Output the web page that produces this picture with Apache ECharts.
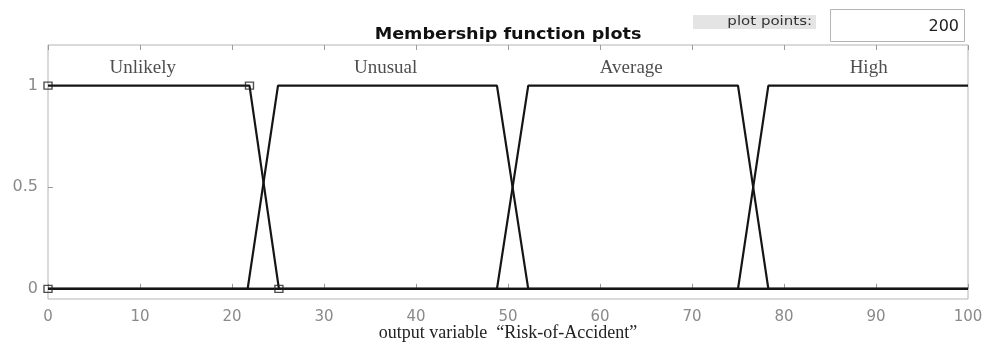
<!DOCTYPE html>
<html>
<head>
<meta charset="utf-8">
<script src="https://cdn.jsdelivr.net/npm/echarts@6/dist/echarts.min.js"></script>
<style>
  html, body { margin: 0; padding: 0; background: #fff; }
  #chart { width: 984px; height: 351px; }
</style>
</head>
<body>
<div id="chart"></div>
<script>
// Trapezoidal membership functions [a, b, c, d] of the output variable
const mfNames = ['Unlikely', 'Unusual', 'Average', 'High'];
const unlikelyParams = [0, 0, 21.9, 25.1];
const unusualParams = [21.7, 25.0, 48.8, 52.2];
const averageParams = [48.8, 52.2, 75.0, 78.3];
const highParams = [75.0, 78.3, 100, 100];
// Where each function's name sits along the x axis
const nameX = [10.3, 36.7, 63.4, 89.2];
const nameY = 1.085;
// Axis ticks
const xTicks = [0, 10, 20, 30, 40, 50, 60, 70, 80, 90, 100];
const yTicks = [0, 0.5, 1];
const xRange = [0, 100];
const yRange = [-0.05, 1.2];
const plotPoints = '200';

function trapValue(p, x) {
  const [a, b, c, d] = p;
  let up = b === a ? (x >= a ? 1 : 0) : (x - a) / (b - a);
  let down = d === c ? (x <= d ? 1 : 0) : (d - x) / (d - c);
  return Math.max(0, Math.min(up, 1, down));
}

function trapLine(p) {
  const pts = [[xRange[0], trapValue(p, xRange[0])]];
  const vy = [0, 1, 1, 0];
  p.forEach((x, i) => {
    if (x > xRange[0] && x < xRange[1]) pts.push([x, vy[i]]);
  });
  pts.push([xRange[1], trapValue(p, xRange[1])]);
  return pts;
}

const allParams = [unlikelyParams, unusualParams, averageParams, highParams];

const chart = echarts.init(document.getElementById('chart'));

const lineSeries = allParams.map((p, i) => ({
  name: mfNames[i],
  type: 'line',
  data: trapLine(p),
  symbol: 'none',
  lineStyle: { color: '#151515', width: 2.2 },
  z: 3,
  animation: false
}));

chart.setOption({
  backgroundColor: '#ffffff',
  animation: false,
  grid: {
    left: 48, right: 16, top: 45, bottom: 52,
    outerBoundsMode: 'none',
    containLabel: false,
    show: true, borderColor: '#b4b4b4', borderWidth: 1
  },
  xAxis: [{
    type: 'value',
    min: xRange[0], max: xRange[1], interval: 10,
    name: 'output variable  \u201cRisk-of-Accident\u201d',
    nameLocation: 'middle', nameGap: 25, nameMoveOverlap: false,
    nameTextStyle: { fontFamily: 'Liberation Serif', fontSize: 18, color: '#222' },
    axisLine: { show: false },
    axisTick: { show: true, inside: true, length: 5, lineStyle: { color: '#9a9a9a' } },
    axisLabel: { margin: 11, fontFamily: 'DejaVu Sans', fontSize: 15, color: '#8a8a8a',
      customValues: xTicks },
    splitLine: { show: false }
  }, {
    type: 'value', position: 'top',
    min: xRange[0], max: xRange[1], interval: 10,
    axisLine: { show: false },
    axisTick: { show: true, inside: true, length: 5, lineStyle: { color: '#9a9a9a' } },
    axisLabel: { show: false },
    splitLine: { show: false }
  }],
  yAxis: {
    type: 'value',
    min: yRange[0], max: yRange[1],
    axisLine: { show: false },
    axisTick: { show: true, inside: true, length: 5, customValues: yTicks,
      lineStyle: { color: '#9a9a9a' } },
    axisLabel: { margin: 10, fontFamily: 'DejaVu Sans', fontSize: 16, color: '#8a8a8a',
      customValues: yTicks, formatter: v => String(v) },
    splitLine: { show: false }
  },
  series: lineSeries.concat([
    {
      // vertex handles of the selected function
      type: 'scatter',
      data: [[unlikelyParams[0], 0], [unlikelyParams[1], 1], [unlikelyParams[2], 1], [unlikelyParams[3], 0]],
      symbol: 'rect', symbolSize: [8, 7],
      itemStyle: { color: 'rgba(0,0,0,0)', borderColor: '#222', borderWidth: 1.3 },
      z: 4
    },
    {
      type: 'scatter',
      data: nameX.map((x, i) => ({ value: [x, nameY], name: mfNames[i] })),
      symbolSize: 0,
      label: {
        show: true, position: 'inside', formatter: '{b}',
        fontFamily: 'Liberation Serif', fontSize: 19, color: '#222'
      },
      silent: true,
      z: 5
    }
  ]),
  graphic: [
    {
      type: 'text', x: 508, y: 35, scaleX: 1.1,
      style: { text: 'Membership function plots', font: 'bold 16px "DejaVu Sans"', fill: '#111',
        align: 'center', verticalAlign: 'middle' }
    },
    {
      type: 'rect', shape: { x: 693, y: 15, width: 123, height: 14 },
      style: { fill: '#e4e4e4' }
    },
    {
      type: 'text', x: 812, y: 22, scaleX: 1.25,
      style: { text: 'plot points:', font: '12px "DejaVu Sans"', fill: '#333', align: 'right', verticalAlign: 'middle' }
    },
    {
      type: 'rect', shape: { x: 830.5, y: 9.5, width: 134, height: 32 },
      style: { fill: '#fff', stroke: '#b4b4b4', lineWidth: 1 }
    },
    {
      type: 'text', x: 959, y: 27,
      style: { text: plotPoints, font: '16px "DejaVu Sans"', fill: '#222', align: 'right', verticalAlign: 'middle' }
    }
  ]
});
</script>
</body>
</html>
